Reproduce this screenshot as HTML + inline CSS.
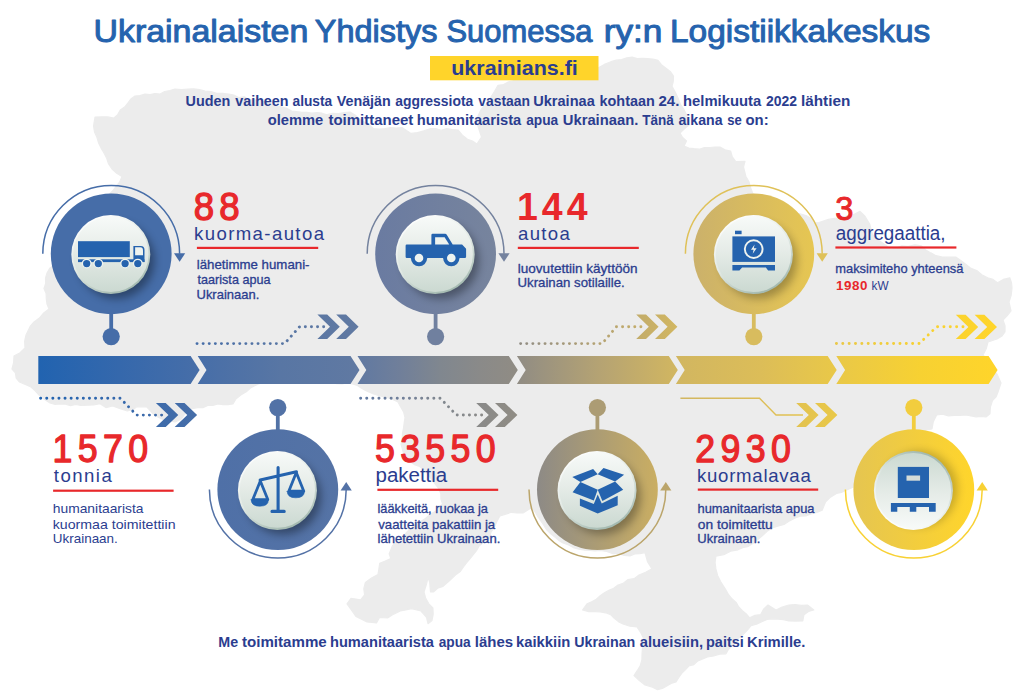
<!DOCTYPE html>
<html lang="fi"><head><meta charset="utf-8"><title>Ukrainalaisten Yhdistys Suomessa ry:n Logistiikkakeskus</title>
<style>html,body{margin:0;padding:0;background:#fff}body{width:1024px;height:693px;overflow:hidden;position:relative}svg{display:block;position:absolute;left:0;top:0}text{font-family:"Liberation Sans", sans-serif}</style>
</head><body>
<svg width="1024" height="693" viewBox="0 0 1024 693">
<defs>
<linearGradient id="gg" gradientUnits="userSpaceOnUse" x1="38" y1="0" x2="1000" y2="0">
<stop offset="0.000" stop-color="#2163b0"/>
<stop offset="0.085" stop-color="#3568ac"/>
<stop offset="0.168" stop-color="#476ea8"/>
<stop offset="0.252" stop-color="#5876a4"/>
<stop offset="0.332" stop-color="#6079a2"/>
<stop offset="0.376" stop-color="#707f9a"/>
<stop offset="0.418" stop-color="#80878f"/>
<stop offset="0.459" stop-color="#8a8a89"/>
<stop offset="0.498" stop-color="#908c84"/>
<stop offset="0.584" stop-color="#b5a373"/>
<stop offset="0.663" stop-color="#d1b661"/>
<stop offset="0.751" stop-color="#dcbd58"/>
<stop offset="0.830" stop-color="#e9c848"/>
<stop offset="0.917" stop-color="#f7d132"/>
<stop offset="1.000" stop-color="#ffd52a"/>
</linearGradient>
<linearGradient id="btn" x1="0" y1="0" x2="0" y2="1">
<stop offset="0" stop-color="#f7faf8"/>
<stop offset="0.45" stop-color="#e6ece8"/>
<stop offset="1" stop-color="#cbd9d1"/>
</linearGradient>
<linearGradient id="rim" x1="0.25" y1="0" x2="0.75" y2="1">
<stop offset="0" stop-color="#ffffff"/>
<stop offset="0.5" stop-color="#e1e9e4"/>
<stop offset="1" stop-color="#9bb3a9"/>
</linearGradient>
<linearGradient id="btnf" x1="0" y1="1" x2="0" y2="0">
<stop offset="0" stop-color="#f7faf8"/>
<stop offset="0.45" stop-color="#e6ece8"/>
<stop offset="1" stop-color="#cbd9d1"/>
</linearGradient>
<linearGradient id="rimf" x1="0.25" y1="1" x2="0.75" y2="0">
<stop offset="0" stop-color="#ffffff"/>
<stop offset="0.5" stop-color="#e1e9e4"/>
<stop offset="1" stop-color="#9bb3a9"/>
</linearGradient>
<filter id="sh" x="-40%" y="-40%" width="200%" height="200%"><feGaussianBlur stdDeviation="4"/></filter>
</defs>
<polygon fill="#ececec" stroke="#ececec" stroke-width="1.2" stroke-linejoin="round" points="95.0,117.0 101.4,116.9 107.7,116.9 114.0,118.0 117.7,114.6 120.3,110.0 124.6,107.1 127.8,103.1 130.8,99.0 135.0,96.0 140.0,95.6 144.9,94.2 150.0,94.7 154.9,93.5 160.0,94.0 164.7,91.5 169.9,90.5 175.0,89.0 181.5,89.7 188.0,89.0 193.8,88.8 199.6,89.7 205.2,91.2 211.0,91.6 216.7,93.4 222.7,93.4 228.6,94.0 233.8,95.0 238.6,97.5 244.3,96.8 249.0,99.8 254.4,99.8 259.6,100.7 264.8,101.9 269.8,103.6 274.7,105.9 280.0,106.5 286.1,108.1 291.7,111.0 296.7,111.7 301.8,112.4 306.9,112.3 311.9,113.2 317.0,112.7 322.1,113.2 327.0,114.7 332.7,113.4 338.5,113.7 344.2,112.5 350.0,112.0 355.0,115.0 359.4,118.8 364.3,121.9 369.2,125.0 373.7,128.7 379.4,129.1 385.0,128.7 390.7,127.5 396.3,128.0 402.0,127.6 406.5,130.5 411.0,133.4 417.5,132.6 423.8,130.8 430.0,128.7 435.6,128.5 441.2,130.3 446.8,128.6 452.4,129.6 458.0,130.0 462.4,135.1 467.5,139.3 472.5,141.0 476.9,144.0 481.5,137.0 479.2,130.0 476.9,122.9 478.2,115.5 481.5,108.8 485.0,105.1 488.3,101.3 491.0,97.0 494.6,91.3 498.0,85.4 503.6,84.6 508.6,81.9 514.0,80.7 519.2,80.6 524.4,79.8 529.6,79.3 534.8,78.4 540.0,78.0 545.1,78.1 550.1,77.6 555.0,75.9 560.0,75.7 564.9,73.7 570.0,74.0 575.7,73.2 581.3,71.9 587.0,71.5 592.5,69.9 598.0,68.0 604.3,64.4 611.0,61.7 616.2,60.2 621.6,59.5 626.8,57.8 632.1,57.2 637.2,58.6 642.5,58.4 647.7,58.7 652.9,59.0 658.0,60.4 661.4,64.6 665.7,68.0 670.2,71.4 673.5,76.0 673.3,81.3 672.0,86.4 675.2,92.1 678.0,98.0 680.3,104.2 684.0,109.7 686.5,114.5 687.4,119.9 689.0,125.0 684.4,128.9 680.0,133.0 682.6,137.5 686.5,141.0 684.0,146.0 688.8,148.0 694.0,148.7 699.3,149.2 704.4,147.5 709.6,147.5 714.8,147.0 720.0,147.0 725.0,149.8 730.6,151.0 732.3,156.8 735.8,161.7 745.0,161.4 743.5,167.0 745.9,176.5 749.0,181.8 750.6,187.6 753.0,194.0 757.1,199.1 760.0,205.0 765.1,205.6 770.1,206.8 775.0,208.5 780.0,209.9 785.1,210.3 790.0,212.0 799.0,213.5 806.0,215.5 811.2,218.4 815.0,223.0 818.9,222.5 828.4,219.4 834.7,218.4 841.0,217.8 847.3,215.9 853.8,214.6 860.0,211.4 865.0,216.2 869.7,224.0 871.0,229.2 872.5,234.4 876.5,238.9 881.5,242.2 886.4,245.7 891.0,249.4 896.5,247.9 901.8,245.9 908.3,246.3 914.9,244.9 921.4,245.9 925.8,249.9 930.8,252.9 936.0,255.7 942.5,257.0 949.2,257.2 955.8,257.0 960.8,260.5 965.7,264.2 970.5,268.0 976.7,270.5 981.8,274.8 987.7,277.8 993.0,279.4 997.5,282.7 1003.3,279.4 1009.8,277.8 1011.5,282.8 1012.0,288.0 1011.2,295.2 1009.0,302.0 1011.0,311.0 1007.3,315.7 1003.0,320.0 1005.0,325.8 1005.0,332.0 1001.7,336.3 997.0,339.0 988.0,342.0 986.2,348.8 983.0,355.0 987.2,360.0 990.0,366.0 993.7,369.8 997.0,374.0 1001.0,383.0 998.0,392.0 996.1,396.9 992.5,400.6 990.4,407.0 990.0,413.8 986.0,417.0 981.0,416.3 975.9,416.8 970.9,416.0 966.0,415.0 960.1,415.3 954.3,415.3 948.4,415.8 942.6,414.2 936.7,415.0 933.3,421.7 932.0,429.0 926.0,430.0 923.2,434.5 920.3,438.9 918.1,443.8 915.2,448.3 911.8,452.4 909.1,456.9 905.2,460.7 903.5,466.0 900.0,470.0 895.5,472.8 889.8,472.8 885.3,475.5 880.6,478.1 875.4,479.1 870.9,482.0 865.6,482.9 860.4,483.8 855.5,485.9 850.8,488.1 846.0,490.3 841.4,492.4 836.5,493.5 830.0,497.5 825.4,502.2 822.2,510.2 816.7,512.4 811.0,514.0 805.9,516.0 800.3,516.1 795.2,518.0 788.9,521.3 784.0,524.4 778.5,525.9 773.0,527.6 767.1,531.3 762.0,536.0 757.4,539.9 752.8,543.6 747.6,546.7 742.6,547.6 738.0,549.8 730.6,551.2 723.8,554.6 715.9,556.2 715.1,562.5 715.9,568.9 717.6,575.5 720.6,581.6 726.0,590.0 728.6,594.7 732.0,598.8 736.1,602.4 738.8,607.0 742.4,610.6 746.3,614.0 749.7,617.8 754.9,615.3 760.6,614.7 763.5,609.2 768.0,605.0 776.0,610.0 782.2,607.0 788.8,605.0 795.0,604.5 801.3,605.4 807.5,605.0 813.8,610.0 808.5,611.4 804.0,614.7 802.8,621.0 795.8,621.1 788.8,621.0 783.4,619.6 778.0,619.1 772.5,618.8 767.0,619.4 761.8,621.7 756.6,624.1 751.0,625.6 747.4,630.2 743.3,634.3 738.8,638.0 736.1,642.4 732.2,645.7 728.5,649.3 726.0,653.8 719.7,654.1 713.7,656.0 707.5,657.0 702.7,658.9 697.9,660.9 693.9,664.6 688.8,666.0 685.3,669.8 681.7,673.4 678.7,677.6 676.0,682.0 671.2,683.4 666.8,685.9 662.4,688.4 657.5,689.7 651.5,686.8 645.0,685.0 639.3,680.6 634.0,675.6 637.2,670.7 640.2,665.7 641.9,660.0 642.0,654.5 642.4,649.0 644.0,643.6 643.4,638.0 640.6,632.3 637.0,627.0 629.8,626.2 623.0,624.0 618.4,621.6 614.3,618.4 610.6,614.7 605.6,612.8 600.3,612.0 595.0,611.6 588.7,611.6 582.5,610.0 587.0,603.8 591.7,601.7 596.3,599.2 600.2,595.8 604.4,592.8 608.9,590.2 613.7,588.2 618.0,585.0 623.0,583.4 627.8,579.7 634.1,578.7 639.0,575.0 645.6,572.2 652.0,568.8 647.6,562.0 645.0,552.6 640.0,553.7 634.8,553.9 630.0,556.0 624.3,555.4 618.8,553.7 613.0,553.7 606.7,551.4 600.0,550.5 595.0,550.9 590.0,550.5 585.0,550.2 580.0,549.5 574.1,547.9 568.7,545.0 563.0,543.0 558.7,540.4 554.9,537.1 551.0,534.0 546.4,529.5 543.0,524.0 538.0,517.0 535.2,511.9 531.0,508.0 523.0,513.0 517.2,513.0 511.5,512.3 505.8,514.1 500.0,515.8 496.8,521.8 494.0,528.0 490.9,532.4 489.5,537.7 487.0,542.5 482.9,542.7 479.0,546.1 476.5,550.6 473.3,554.6 470.1,558.5 466.9,562.5 463.8,566.5 460.3,571.5 455.4,575.1 451.0,579.2 447.1,582.9 443.0,586.4 437.6,588.2 433.7,591.9 430.5,591.9 429.7,582.4 428.0,577.6 426.5,584.0 424.0,592.0 425.7,598.3 428.9,603.8 432.9,607.8 433.2,614.2 432.0,620.5 428.0,623.7 426.5,617.3 421.0,611.0 411.4,608.6 405.9,609.9 400.3,611.0 393.7,614.1 387.6,618.0 379.7,617.3 376.5,622.9 367.0,622.0 361.5,619.1 355.9,616.5 351.0,609.4 347.0,603.8 351.0,598.3 360.6,599.8 364.6,595.0 363.8,588.7 365.4,582.4 371.5,578.1 378.0,574.4 378.9,568.9 379.7,563.3 385.3,561.1 390.8,558.6 389.2,553.8 392.4,545.9 398.0,540.0 403.9,535.5 409.0,530.0 414.0,525.3 420.0,522.0 425.4,518.4 430.4,514.2 436.0,511.0 442.6,504.0 440.9,499.1 440.8,493.9 439.0,489.0 435.3,484.2 431.6,479.4 428.2,474.4 424.0,470.0 419.7,466.5 414.4,464.6 409.9,461.5 405.0,459.0 403.7,454.0 402.4,449.0 401.0,444.0 402.2,438.8 402.5,433.4 403.5,428.1 404.2,422.8 405.0,417.5 403.6,411.9 400.7,407.0 398.0,402.0 392.3,399.2 386.3,397.1 380.0,396.0 372.8,393.8 366.0,390.7 361.6,388.3 357.4,385.4 352.5,384.0 347.3,382.9 341.9,384.0 336.7,383.6 331.5,382.5 326.2,382.9 321.0,382.2 315.7,382.1 310.5,380.4 305.3,379.8 300.0,380.0 294.7,379.6 289.7,381.8 284.4,381.0 279.2,381.6 274.1,383.3 268.8,382.2 263.6,382.5 258.5,384.0 251.0,387.6 246.3,391.8 240.8,395.0 236.1,398.8 233.0,404.0 228.0,404.6 223.0,404.7 217.9,404.0 213.0,405.4 207.8,405.4 202.9,407.6 197.7,407.6 188.0,409.5 184.6,414.5 181.0,419.3 175.0,422.0 168.8,420.6 162.5,419.3 157.4,416.7 152.7,413.4 146.9,407.0 137.0,406.6 133.2,409.5 127.3,411.0 119.5,408.5 112.7,406.0 105.9,407.6 100.0,403.7 93.7,404.9 87.2,405.2 80.8,405.4 75.7,404.5 70.5,405.7 65.4,404.1 60.3,403.9 55.1,404.5 50.0,403.0 44.3,399.3 39.0,395.0 35.2,390.8 31.0,387.0 25.3,384.5 19.5,382.0 16.2,378.1 15.4,372.8 12.0,369.0 13.6,362.6 14.0,356.0 20.1,352.8 25.0,348.0 24.6,341.4 26.0,335.0 28.2,330.4 30.5,325.8 34.0,322.0 39.4,318.1 43.7,313.0 49.0,309.0 47.0,304.1 46.3,298.8 46.1,293.4 44.0,288.5 45.7,283.5 45.5,278.1 47.0,273.0 49.7,268.2 54.3,265.0 57.0,260.2 60.5,256.1 62.8,251.0 66.0,246.6 70.4,243.2 73.3,238.5 76.0,233.7 80.0,230.0 84.0,226.7 86.7,222.4 90.2,218.7 92.2,213.8 96.8,211.0 98.7,205.9 103.3,203.1 105.8,198.7 108.9,194.6 112.5,191.0 115.6,187.0 119.6,182.2 122.0,176.5 116.7,173.2 112.0,169.0 108.6,164.0 106.7,158.3 104.0,153.0 101.1,148.1 98.6,143.0 97.0,137.5 94.5,132.0 93.5,126.0"/>
<rect x="430" y="56" width="168.5" height="24.3" fill="#ffd42a"/>
<text y="41.9" font-size="32.0" font-weight="400" fill="#2563ae" stroke="#2563ae" stroke-width="1.00" stroke-linejoin="round"><tspan x="93.50" textLength="214.82" lengthAdjust="spacingAndGlyphs">Ukrainalaisten</tspan> <tspan x="314.75" textLength="122.75" lengthAdjust="spacingAndGlyphs">Yhdistys</tspan> <tspan x="446.50" textLength="146.00" lengthAdjust="spacingAndGlyphs">Suomessa</tspan> <tspan x="603.75" textLength="58.69" lengthAdjust="spacingAndGlyphs">ry:n</tspan> <tspan x="670.00" textLength="260.28" lengthAdjust="spacingAndGlyphs">Logistiikkakeskus</tspan></text>
<text x="451.25" y="75.2" font-size="20.0" font-weight="700" fill="#2b3d8f" textLength="126.57" lengthAdjust="spacingAndGlyphs">ukrainians.fi</text>
<text y="106.3" font-size="14.7" font-weight="700" fill="#2b3d8f"><tspan x="185.50" textLength="44.83" lengthAdjust="spacingAndGlyphs">Uuden</tspan> <tspan x="235.25" textLength="53.27" lengthAdjust="spacingAndGlyphs">vaiheen</tspan> <tspan x="292.50" textLength="39.75" lengthAdjust="spacingAndGlyphs">alusta</tspan> <tspan x="336.75" textLength="54.02" lengthAdjust="spacingAndGlyphs">Venäjän</tspan> <tspan x="395.25" textLength="78.00" lengthAdjust="spacingAndGlyphs">aggressiota</tspan> <tspan x="478.25" textLength="51.77" lengthAdjust="spacingAndGlyphs">vastaan</tspan> <tspan x="533.25" textLength="61.51" lengthAdjust="spacingAndGlyphs">Ukrainaa</tspan> <tspan x="599.50" textLength="55.32" lengthAdjust="spacingAndGlyphs">kohtaan</tspan> <tspan x="658.50" textLength="20.88" lengthAdjust="spacingAndGlyphs">24.</tspan> <tspan x="683.00" textLength="78.26" lengthAdjust="spacingAndGlyphs">helmikuuta</tspan> <tspan x="766.00" textLength="31.03" lengthAdjust="spacingAndGlyphs">2022</tspan> <tspan x="801.00" textLength="49.34" lengthAdjust="spacingAndGlyphs">lähtien</tspan></text>
<text y="125.4" font-size="14.7" font-weight="700" fill="#2b3d8f"><tspan x="267.75" textLength="55.52" lengthAdjust="spacingAndGlyphs">olemme</tspan> <tspan x="328.50" textLength="84.75" lengthAdjust="spacingAndGlyphs">toimittaneet</tspan> <tspan x="416.75" textLength="104.51" lengthAdjust="spacingAndGlyphs">humanitaarista</tspan> <tspan x="526.25" textLength="32.00" lengthAdjust="spacingAndGlyphs">apua</tspan> <tspan x="562.75" textLength="75.55" lengthAdjust="spacingAndGlyphs">Ukrainaan.</tspan> <tspan x="642.25" textLength="31.50" lengthAdjust="spacingAndGlyphs">Tänä</tspan> <tspan x="678.50" textLength="44.00" lengthAdjust="spacingAndGlyphs">aikana</tspan> <tspan x="727.25" textLength="14.56" lengthAdjust="spacingAndGlyphs">se</tspan> <tspan x="745.50" textLength="23.16" lengthAdjust="spacingAndGlyphs">on:</tspan></text>
<text y="646.9" font-size="15.0" font-weight="700" fill="#2b3d8f"><tspan x="218.25" textLength="19.84" lengthAdjust="spacingAndGlyphs">Me</tspan> <tspan x="242.00" textLength="84.75" lengthAdjust="spacingAndGlyphs">toimitamme</tspan> <tspan x="330.00" textLength="104.01" lengthAdjust="spacingAndGlyphs">humanitaarista</tspan> <tspan x="438.75" textLength="32.00" lengthAdjust="spacingAndGlyphs">apua</tspan> <tspan x="474.75" textLength="38.33" lengthAdjust="spacingAndGlyphs">lähes</tspan> <tspan x="516.00" textLength="54.32" lengthAdjust="spacingAndGlyphs">kaikkiin</tspan> <tspan x="574.25" textLength="61.04" lengthAdjust="spacingAndGlyphs">Ukrainan</tspan> <tspan x="639.75" textLength="63.28" lengthAdjust="spacingAndGlyphs">alueisiin,</tspan> <tspan x="706.00" textLength="37.84" lengthAdjust="spacingAndGlyphs">paitsi</tspan> <tspan x="747.00" textLength="58.31" lengthAdjust="spacingAndGlyphs">Krimille.</tspan></text>
<polygon fill="url(#gg)" points="38.3,356.0 190.6,356.0 199.6,370.0 190.6,383.9 38.3,383.9"/>
<polygon fill="url(#gg)" points="197.7,356.0 350.5,356.0 359.5,370.0 350.5,383.9 197.7,383.9 206.5,370.0"/>
<polygon fill="url(#gg)" points="357.5,356.0 508.8,356.0 517.8,370.0 508.8,383.9 357.5,383.9 366.3,370.0"/>
<polygon fill="url(#gg)" points="516.9,356.0 668.8,356.0 677.8,370.0 668.8,383.9 516.9,383.9 525.7,370.0"/>
<polygon fill="url(#gg)" points="675.9,356.0 827.7,356.0 836.7,370.0 827.7,383.9 675.9,383.9 684.7,370.0"/>
<polygon fill="url(#gg)" points="836.3,356.0 988.6,356.0 997.6,370.0 988.6,383.9 836.3,383.9 845.1,370.0"/>
<path d="M197.0 343.6L284.6 343.6L299.6 326.7L323.8 326.7" fill="none" stroke="url(#gg)" stroke-width="2.9" stroke-linecap="round" stroke-dasharray="0.1 6.0"/>
<polygon fill="url(#gg)" points="317.4,314.6 327.2,314.6 339.8,326.8 327.2,338.9 317.4,338.9 330.0,326.8"/>
<polygon fill="url(#gg)" points="336.2,314.6 346.0,314.6 358.6,326.8 346.0,338.9 336.2,338.9 348.8,326.8"/>
<path d="M520.6 343.6L602.2 343.6L616.4 326.7L642.4 326.7" fill="none" stroke="url(#gg)" stroke-width="2.9" stroke-linecap="round" stroke-dasharray="0.1 6.0"/>
<polygon fill="url(#gg)" points="636.2,314.6 646.0,314.6 658.6,326.8 646.0,338.9 636.2,338.9 648.8,326.8"/>
<polygon fill="url(#gg)" points="655.0,314.6 664.8,314.6 677.4,326.8 664.8,338.9 655.0,338.9 667.6,326.8"/>
<path d="M836.4 343.5L919.4 343.5L936.7 326.7L963.5 326.7" fill="none" stroke="url(#gg)" stroke-width="2.9" stroke-linecap="round" stroke-dasharray="0.1 6.25"/>
<polygon fill="url(#gg)" points="955.8,314.8 965.6,314.8 978.2,326.9 965.6,339.0 955.8,339.0 968.4,326.9"/>
<polygon fill="url(#gg)" points="974.6,314.8 984.4,314.8 997.0,326.9 984.4,339.0 974.6,339.0 987.2,326.9"/>
<path d="M40.6 398.3L120.4 398.3L136.6 415.1L162.2 415.1" fill="none" stroke="url(#gg)" stroke-width="2.9" stroke-linecap="round" stroke-dasharray="0.1 6.0"/>
<polygon fill="url(#gg)" points="155.9,402.9 165.7,402.9 178.3,415.0 165.7,427.1 155.9,427.1 168.5,415.0"/>
<polygon fill="url(#gg)" points="174.7,402.9 184.5,402.9 197.1,415.0 184.5,427.1 174.7,427.1 187.3,415.0"/>
<path d="M360.6 398.3L440.4 398.3L456.4 415.0L483.0 415.0" fill="none" stroke="url(#gg)" stroke-width="2.9" stroke-linecap="round" stroke-dasharray="0.1 6.0"/>
<polygon fill="url(#gg)" points="476.2,402.9 486.0,402.9 498.6,415.0 486.0,427.1 476.2,427.1 488.8,415.0"/>
<polygon fill="url(#gg)" points="495.0,402.9 504.8,402.9 517.4,415.0 504.8,427.1 495.0,427.1 507.6,415.0"/>
<path d="M680.4 398.2L759.5 398.2L776.0 415.0L803.0 415.0" fill="none" stroke="url(#gg)" stroke-width="1.4"/>
<polygon fill="url(#gg)" points="796.2,402.9 806.0,402.9 818.6,415.0 806.0,427.1 796.2,427.1 808.8,415.0"/>
<polygon fill="url(#gg)" points="815.0,402.9 824.8,402.9 837.4,415.0 824.8,427.1 815.0,427.1 827.6,415.0"/>
<linearGradient id="c0" x1="0" y1="0" x2="1" y2="0"><stop offset="0" stop-color="#466da8"/><stop offset="1" stop-color="#466da8"/></linearGradient>
<rect x="109.3" y="312.2" width="3.8" height="24.4" fill="#466da8"/>
<circle cx="111.2" cy="336.6" r="8.6" fill="#466da8"/>
<path d="M42.8 253.8A68.4 68.4 0 0 1 179.6 253.8" fill="none" stroke="#466da8" stroke-width="1.5"/>
<polygon fill="#466da8" points="174.0,253.3 185.2,253.3 179.6,261.8"/>
<circle cx="111.2" cy="253.8" r="60.4" fill="url(#c0)"/>
<circle cx="116.3" cy="260.6" r="38.2" fill="#000" opacity="0.36" filter="url(#sh)"/>
<circle cx="110.8" cy="254.6" r="39.5" fill="url(#rim)"/>
<circle cx="110.8" cy="254.3" r="37.7" fill="url(#btn)"/>
<linearGradient id="c1" x1="0" y1="0" x2="1" y2="0"><stop offset="0" stop-color="#4f70a7"/><stop offset="1" stop-color="#5573a5"/></linearGradient>
<rect x="275.9" y="407.6" width="3.8" height="23.6" fill="#5272a6"/>
<circle cx="277.8" cy="407.6" r="8.6" fill="#5272a6"/>
<path d="M209.4 489.6A68.4 68.4 0 0 0 346.2 489.6" fill="none" stroke="#5472a6" stroke-width="1.5"/>
<polygon fill="#5472a6" points="340.6,490.6 351.8,490.6 346.2,482.0"/>
<circle cx="277.8" cy="489.6" r="60.4" fill="url(#c1)"/>
<circle cx="282.9" cy="496.4" r="38.2" fill="#000" opacity="0.36" filter="url(#sh)"/>
<circle cx="277.4" cy="490.4" r="39.5" fill="url(#rim)"/>
<circle cx="277.4" cy="490.1" r="37.7" fill="url(#btn)"/>
<linearGradient id="c2" x1="0" y1="0" x2="1" y2="0"><stop offset="0" stop-color="#6a7ba1"/><stop offset="1" stop-color="#77849d"/></linearGradient>
<rect x="433.7" y="312.2" width="3.8" height="24.4" fill="#70809f"/>
<circle cx="435.6" cy="336.6" r="8.6" fill="#70809f"/>
<path d="M367.2 253.8A68.4 68.4 0 0 1 504.0 253.8" fill="none" stroke="#74829e" stroke-width="1.5"/>
<polygon fill="#74829e" points="498.4,253.3 509.6,253.3 504.0,261.8"/>
<circle cx="435.6" cy="253.8" r="60.4" fill="url(#c2)"/>
<circle cx="440.7" cy="260.6" r="38.2" fill="#000" opacity="0.34" filter="url(#sh)"/>
<circle cx="435.2" cy="254.6" r="39.5" fill="url(#rim)"/>
<circle cx="435.2" cy="254.3" r="37.7" fill="url(#btn)"/>
<linearGradient id="c3" x1="0" y1="0" x2="1" y2="0"><stop offset="0" stop-color="#8d8a86"/><stop offset="1" stop-color="#caae62"/></linearGradient>
<rect x="595.5" y="407.6" width="3.8" height="23.6" fill="#ac9c74"/>
<circle cx="597.4" cy="407.6" r="8.6" fill="#ac9c74"/>
<path d="M529.0 489.6A68.4 68.4 0 0 0 665.8 489.6" fill="none" stroke="#bba56b" stroke-width="1.5"/>
<polygon fill="#bba56b" points="660.2,490.6 671.4,490.6 665.8,482.0"/>
<circle cx="597.4" cy="489.6" r="60.4" fill="url(#c3)"/>
<circle cx="602.5" cy="496.4" r="38.2" fill="#000" opacity="0.30" filter="url(#sh)"/>
<circle cx="597.0" cy="490.4" r="39.5" fill="url(#rim)"/>
<circle cx="597.0" cy="490.1" r="37.7" fill="url(#btn)"/>
<linearGradient id="c4" x1="0" y1="0" x2="1" y2="0"><stop offset="0" stop-color="#cbb16b"/><stop offset="1" stop-color="#e6c652"/></linearGradient>
<rect x="751.9" y="312.2" width="3.8" height="24.4" fill="#d8bc5e"/>
<circle cx="753.8" cy="336.6" r="8.6" fill="#d8bc5e"/>
<path d="M685.4 253.8A68.4 68.4 0 0 1 822.2 253.8" fill="none" stroke="#dfc158" stroke-width="1.5"/>
<polygon fill="#dfc158" points="816.6,253.3 827.8,253.3 822.2,261.8"/>
<circle cx="753.8" cy="253.8" r="60.4" fill="url(#c4)"/>
<circle cx="758.9" cy="260.6" r="38.2" fill="#000" opacity="0.27" filter="url(#sh)"/>
<circle cx="753.4" cy="254.6" r="39.5" fill="url(#rim)"/>
<circle cx="753.4" cy="254.3" r="37.7" fill="url(#btn)"/>
<linearGradient id="c5" x1="0" y1="0" x2="1" y2="0"><stop offset="0" stop-color="#e5c551"/><stop offset="1" stop-color="#ffd52b"/></linearGradient>
<rect x="911.9" y="407.6" width="3.8" height="23.6" fill="#f2cd3e"/>
<circle cx="913.8" cy="407.6" r="8.6" fill="#f2cd3e"/>
<path d="M845.4 489.6A68.4 68.4 0 0 0 982.2 489.6" fill="none" stroke="#f8d134" stroke-width="1.5"/>
<polygon fill="#f8d134" points="976.6,490.6 987.8,490.6 982.2,482.0"/>
<circle cx="913.8" cy="489.6" r="60.4" fill="url(#c5)"/>
<circle cx="919.4" cy="488.9" r="38.2" fill="#000" opacity="0.20" filter="url(#sh)"/>
<circle cx="913.4" cy="490.4" r="39.5" fill="url(#rimf)"/>
<circle cx="913.4" cy="490.7" r="37.7" fill="url(#btnf)"/>
<g fill="#2563ae">
<rect x="78" y="241.2" width="51.8" height="15.9"/>
<rect x="78" y="259.3" width="66.5" height="2.8"/>
<path d="M133.4 245.9h7.4q3.7 0 3.7 4.2v12h-11.1z"/>
<circle cx="86.7" cy="263.6" r="4.3" stroke="#eef3ef" stroke-width="1.3"/>
<circle cx="98.3" cy="263.6" r="4.3" stroke="#eef3ef" stroke-width="1.3"/>
<circle cx="125.1" cy="263.6" r="4.3" stroke="#eef3ef" stroke-width="1.3"/>
<circle cx="137.8" cy="263.6" r="4.3" stroke="#eef3ef" stroke-width="1.3"/>
<path d="M135.1 247.3h5.2q2.7 0 2.7 3.1v4.8h-7.9z" fill="#eef3ef"/>
</g>
<g fill="#2563ae">
<path d="M405.6 245.7q0-1.2 1.2-1.2h24.6v-9.5q0-1.2 1.2-1.2h12.6q0.9 0 1.4 0.8l6.1 9.9h9.4l4 4.2v8q0 1.3-1.3 1.3h-58q-1.2 0-1.2-1.2z"/>
<path d="M435.1 237.2h9.5l4.6 7.3h-14.1z" fill="#eef3ef"/>
<circle cx="419" cy="258.2" r="8.1"/><circle cx="451.3" cy="258.2" r="8.1"/>
<circle cx="419" cy="258" r="4.3" fill="#eef3ef"/><circle cx="451.3" cy="258" r="4.3" fill="#eef3ef"/>
</g>
<g fill="#2563ae">
<rect x="732.4" y="236.4" width="42.6" height="25.5"/>
<rect x="735" y="230.7" width="6.6" height="3.5"/>
<path d="M732.4 265h42.6v5.5h-6.9l-2.2-2.9h-23.8l-2.7 2.9h-7z"/>
<circle cx="753.7" cy="249.1" r="8.9" fill="none" stroke="#eef3ef" stroke-width="1.9"/>
<path d="M754.6 244.6l-3.6 5.2h2.6l-0.9 4 3.9-5.6h-2.8z" fill="#eef3ef"/>
</g>
<g fill="#2563ae" stroke="#2563ae" stroke-linecap="round" stroke-linejoin="round">
<path d="M278.1 467.5V511.4M272 511.4h12.2M260.2 480.1L296.4 471.8" fill="none" stroke-width="3.1"/>
<path d="M260.3 481L252.8 499.6h15z" fill="none" stroke-width="2.8"/>
<path d="M251.2 499.8h17.2q0 6.4-8.6 6.4t-8.6-6.4z" stroke-width="0.6"/>
<path d="M296.3 472.6L288.8 491.2h15z" fill="none" stroke-width="2.8"/>
<path d="M287.2 491.4h17.2q0 6.4-8.6 6.4t-8.6-6.4z" stroke-width="0.6"/>
</g>
<g fill="#2563ae">
<polygon points="572.3,477.1 593.1,469.0 597.7,474.2 580.4,481.9"/>
<polygon points="597.7,474.2 603.5,468.1 624.1,474.7 615.1,481.4"/>
<polygon points="580.4,481.9 597.7,489.7 593.8,500.6 572.6,492.3"/>
<polygon points="615.1,481.4 623.2,489.7 602.4,501.0 597.7,489.7"/>
<polygon points="579.9,498.4 593.8,504.1 597.7,494.4 601.7,503.6 617.7,495.8 617.7,505.3 597.7,513.5 579.9,505.8"/>
</g>
<g fill="#2563ae">
<rect x="897.8" y="466.9" width="31.2" height="31.1"/>
<rect x="906.5" y="475.5" width="13.6" height="5.2" fill="#d5dcd8"/>
<path d="M890.9 503.1h44.8v8.6h-6.7v-4.6h-12.7v4.6h-6.5v-4.6h-12.5v4.6h-6.4z"/>
</g>
<text transform="translate(193.75 220.3) scale(0.940 1)" x="0" y="0" font-size="39.0" font-weight="400" fill="#e8282b" stroke="#e8282b" stroke-width="1.30" stroke-linejoin="round" textLength="48.94" lengthAdjust="spacing">88</text>
<text x="194.00" y="240.4" font-size="18.6" font-weight="400" fill="#2b3d8f" textLength="130.00" lengthAdjust="spacing">kuorma-autoa</text>
<rect x="196.9" y="246.8" width="121.3" height="2.2" fill="#e8282b"/>
<text x="196.75" y="269.1" font-size="12.6" font-weight="400" fill="#2b3d8f" stroke="#2b3d8f" stroke-width="0.30" stroke-linejoin="round" textLength="112.76" lengthAdjust="spacingAndGlyphs">lähetimme humani-</text>
<text x="197.50" y="284.1" font-size="12.6" font-weight="400" fill="#2b3d8f" stroke="#2b3d8f" stroke-width="0.30" stroke-linejoin="round" textLength="73.00" lengthAdjust="spacingAndGlyphs">taarista apua</text>
<text x="196.50" y="298.6" font-size="12.6" font-weight="400" fill="#2b3d8f" stroke="#2b3d8f" stroke-width="0.30" stroke-linejoin="round" textLength="62.81" lengthAdjust="spacingAndGlyphs">Ukrainaan.</text>
<text transform="translate(517.00 220.3) scale(0.960 1)" x="0" y="0" font-size="39.0" font-weight="700" fill="#e8282b" textLength="73.44" lengthAdjust="spacing">144</text>
<text x="518.00" y="240.4" font-size="18.6" font-weight="400" fill="#2b3d8f" textLength="51.75" lengthAdjust="spacing">autoa</text>
<rect x="517.8" y="246.8" width="121.0" height="2.2" fill="#e8282b"/>
<text x="517.75" y="272.5" font-size="12.6" font-weight="400" fill="#2b3d8f" stroke="#2b3d8f" stroke-width="0.30" stroke-linejoin="round" textLength="119.76" lengthAdjust="spacingAndGlyphs">luovutettiin käyttöön</text>
<text x="517.50" y="286.9" font-size="12.6" font-weight="400" fill="#2b3d8f" stroke="#2b3d8f" stroke-width="0.30" stroke-linejoin="round" textLength="107.28" lengthAdjust="spacingAndGlyphs">Ukrainan sotilaille.</text>
<text x="835.25" y="220.0" font-size="33.5" font-weight="400" fill="#e8282b" stroke="#e8282b" stroke-width="0.90" stroke-linejoin="round" textLength="18.18" lengthAdjust="spacingAndGlyphs">3</text>
<text x="835.75" y="240.0" font-size="19.5" font-weight="400" fill="#2b3d8f" textLength="109.80" lengthAdjust="spacingAndGlyphs">aggregaattia,</text>
<rect x="835.4" y="246.4" width="121.0" height="2.2" fill="#e8282b"/>
<text x="835.25" y="272.5" font-size="12.6" font-weight="400" fill="#2b3d8f" stroke="#2b3d8f" stroke-width="0.30" stroke-linejoin="round" textLength="128.25" lengthAdjust="spacingAndGlyphs">maksimiteho yhteensä</text>
<text x="836" y="289.7" font-size="13.4" fill="#2b3d8f"><tspan fill="#e8282b" font-weight="700" textLength="31.5" lengthAdjust="spacing">1980</tspan><tspan dx="3.5" textLength="17" lengthAdjust="spacingAndGlyphs">kW</tspan></text>
<text transform="translate(52.50 461.6) scale(0.940 1)" x="0" y="0" font-size="38.0" font-weight="400" fill="#e8282b" stroke="#e8282b" stroke-width="1.30" stroke-linejoin="round" textLength="101.60" lengthAdjust="spacing">1570</text>
<text x="53.75" y="481.5" font-size="18.6" font-weight="400" fill="#2b3d8f" textLength="58.00" lengthAdjust="spacing">tonnia</text>
<rect x="53.1" y="489.6" width="120.5" height="2.2" fill="#e8282b"/>
<text x="52.75" y="513.4" font-size="12.6" font-weight="400" fill="#2b3d8f" textLength="90.76" lengthAdjust="spacingAndGlyphs">humanitaarista</text>
<text x="52.75" y="528.8" font-size="12.6" font-weight="400" fill="#2b3d8f" textLength="122.78" lengthAdjust="spacingAndGlyphs">kuormaa toimitettiin</text>
<text x="52.75" y="543.4" font-size="12.6" font-weight="400" fill="#2b3d8f" textLength="65.08" lengthAdjust="spacingAndGlyphs">Ukrainaan.</text>
<text transform="translate(375.00 461.6) scale(0.940 1)" x="0" y="0" font-size="38.0" font-weight="400" fill="#e8282b" stroke="#e8282b" stroke-width="1.30" stroke-linejoin="round" textLength="128.19" lengthAdjust="spacing">53550</text>
<text x="375.50" y="481.5" font-size="19.5" font-weight="400" fill="#2b3d8f" textLength="71.78" lengthAdjust="spacingAndGlyphs">pakettia</text>
<rect x="377.4" y="488.7" width="120.8" height="2.2" fill="#e8282b"/>
<text x="377.50" y="513.4" font-size="12.6" font-weight="400" fill="#2b3d8f" stroke="#2b3d8f" stroke-width="0.30" stroke-linejoin="round" textLength="110.50" lengthAdjust="spacingAndGlyphs">lääkkeitä, ruokaa ja</text>
<text x="378.25" y="528.6" font-size="12.6" font-weight="400" fill="#2b3d8f" stroke="#2b3d8f" stroke-width="0.30" stroke-linejoin="round" textLength="117.00" lengthAdjust="spacingAndGlyphs">vaatteita pakattiin ja</text>
<text x="377.50" y="542.9" font-size="12.6" font-weight="400" fill="#2b3d8f" stroke="#2b3d8f" stroke-width="0.30" stroke-linejoin="round" textLength="122.78" lengthAdjust="spacingAndGlyphs">lähetettiin Ukrainaan.</text>
<text transform="translate(695.25 461.6) scale(0.940 1)" x="0" y="0" font-size="38.0" font-weight="400" fill="#e8282b" stroke="#e8282b" stroke-width="1.30" stroke-linejoin="round" textLength="101.60" lengthAdjust="spacing">2930</text>
<text x="697.00" y="481.5" font-size="18.6" font-weight="400" fill="#2b3d8f" textLength="113.75" lengthAdjust="spacing">kuormalavaa</text>
<rect x="697.8" y="488.5" width="120.4" height="2.2" fill="#e8282b"/>
<text x="697.50" y="513.2" font-size="12.6" font-weight="400" fill="#2b3d8f" stroke="#2b3d8f" stroke-width="0.30" stroke-linejoin="round" textLength="117.00" lengthAdjust="spacingAndGlyphs">humanitaarista apua</text>
<text x="697.75" y="528.5" font-size="12.6" font-weight="400" fill="#2b3d8f" stroke="#2b3d8f" stroke-width="0.30" stroke-linejoin="round" textLength="75.02" lengthAdjust="spacingAndGlyphs">on toimitettu</text>
<text x="697.25" y="543.0" font-size="12.6" font-weight="400" fill="#2b3d8f" stroke="#2b3d8f" stroke-width="0.30" stroke-linejoin="round" textLength="63.06" lengthAdjust="spacingAndGlyphs">Ukrainaan.</text>
</svg>
</body></html>
